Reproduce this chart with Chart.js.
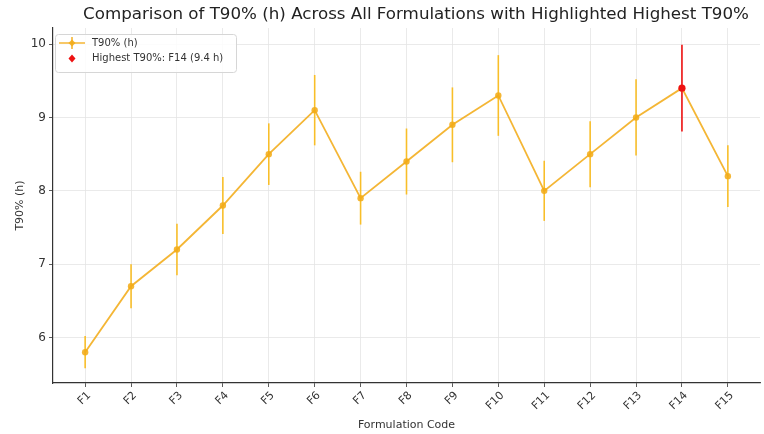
<!DOCTYPE html>
<html lang="en">
  <head>
    <meta charset="UTF-8" />
    <title>T90% comparison</title>
    <script src="https://cdn.jsdelivr.net/npm/chart.js"></script>
    <style>
      body { margin: 0; background: #fff; }
    </style>
  </head>
  <body>
    <canvas id="myChart" width="764" height="434"></canvas>
    <script>
      const codes = ["F1", "F2", "F3", "F4", "F5", "F6", "F7", "F8", "F9", "F10", "F11", "F12", "F13", "F14", "F15"];
      const t90 = [5.8, 6.7, 7.2, 7.8, 8.5, 9.1, 7.9, 8.4, 8.9, 9.3, 8.0, 8.5, 9.0, 9.4, 8.2];
      const t90Err = [0.22, 0.3, 0.35, 0.39, 0.42, 0.48, 0.36, 0.45, 0.51, 0.55, 0.41, 0.45, 0.52, 0.59, 0.42];
      const yTicks = [6, 7, 8, 9, 10];
      const titleText = "Comparison of T90% (h) Across All Formulations with Highlighted Highest T90%";

      // highest one gets the red marker
      let best = 0;
      t90.forEach((v, i) => { if (v > t90[best]) best = i; });

      const ORANGE = "rgba(243, 172, 25, 0.88)";
      const ERR = "rgba(250, 185, 20, 0.9)";
      const RED = "#ee1111";
      const FONT = "'DejaVu Sans', sans-serif";

      const errorBars = {
        id: "errorBars",
        beforeDatasetsDraw(chart) {
          const c = chart.ctx;
          const xs = chart.scales.x;
          const ys = chart.scales.y;
          c.save();
          c.lineWidth = 1.6;
          t90.forEach((v, i) => {
            const x = xs.getPixelForValue(i);
            c.strokeStyle = i === best ? RED : ERR;
            c.beginPath();
            c.moveTo(x, ys.getPixelForValue(v - t90Err[i]));
            c.lineTo(x, ys.getPixelForValue(v + t90Err[i]));
            c.stroke();
          });
          c.restore();
        },
      };

      // title + legend drawn by hand so they sit where the original had them
      const decor = {
        id: "decor",
        afterDraw(chart) {
          const c = chart.ctx;
          c.save();
          c.fillStyle = "#222";
          c.font = "16.7px " + FONT;
          c.textAlign = "center";
          c.textBaseline = "middle";
          c.fillText(titleText, 416, 15);

          const x0 = 55, y0 = 34, w = 181, h = 38;
          c.textAlign = "left";
          c.fillStyle = "rgba(255,255,255,0.85)";
          c.strokeStyle = "#d6d6d6";
          c.lineWidth = 1;
          c.beginPath();
          c.roundRect(x0 + 0.5, y0 + 0.5, w, h, 3);
          c.fill();
          c.stroke();
          // T90% handle
          c.strokeStyle = ORANGE;
          c.lineWidth = 1.6;
          c.beginPath();
          c.moveTo(59, 43); c.lineTo(85, 43);
          c.moveTo(72, 37); c.lineTo(72, 49);
          c.stroke();
          c.fillStyle = ORANGE;
          c.beginPath();
          c.moveTo(72, 39.5); c.lineTo(75.5, 43); c.lineTo(72, 46.5); c.lineTo(68.5, 43);
          c.fill();
          // red marker
          c.fillStyle = RED;
          c.beginPath();
          c.moveTo(72, 54.5); c.lineTo(75.5, 58.5); c.lineTo(72, 62.5); c.lineTo(68.5, 58.5);
          c.fill();
          c.fillStyle = "#333";
          c.font = "10px " + FONT;
          c.fillText(chart.data.datasets[0].label, 92, 43);
          c.fillText(chart.data.datasets[1].label, 92, 58.5);
          c.restore();
        },
      };

      const ctx = document.getElementById("myChart").getContext("2d");
      const myChart = new Chart(ctx, {
        type: "line",
        data: {
          datasets: [
            {
              label: "T90% (h)",
              data: t90.map((v, i) => ({ x: i, y: v })),
              borderColor: ORANGE,
              backgroundColor: ORANGE,
              borderWidth: 1.8,
              pointRadius: 3.2,
              pointBorderWidth: 0,
              tension: 0,
              order: 2,
            },
            {
              label: "Highest T90%: " + codes[best] + " (" + t90[best] + " h)",
              data: [{ x: best, y: t90[best] }],
              showLine: false,
              backgroundColor: RED,
              borderColor: RED,
              pointRadius: 3.6,
              pointBorderWidth: 0,
              order: 1,
            },
          ],
        },
        options: {
          responsive: false,
          animation: false,
          layout: { padding: { left: 0, right: 0, top: 28, bottom: 0 } },
          plugins: {
            legend: { display: false },
            tooltip: { enabled: false },
            title: { display: false },
          },
          scales: {
            x: {
              type: "linear",
              min: -0.7,
              max: 14.7,
              afterBuildTicks: (s) => { s.ticks = codes.map((c, i) => ({ value: i })); },
              afterFit: (s) => { s.height = 51; },
              ticks: {
                callback: (v) => codes[v],
                minRotation: 45,
                maxRotation: 45,
                labelOffset: 4,
                color: "#333",
                font: { family: FONT, size: 11 },
                padding: 2,
              },
              grid: { color: "#e4e4e4", lineWidth: 0.8, tickColor: "#333", tickLength: 4 },
              border: { color: "#333", width: 1.2 },
              title: {
                display: true,
                text: "Formulation Code",
                color: "#333",
                font: { family: FONT, size: 11 },
                padding: { top: 0, bottom: 2 },
              },
            },
            y: {
              min: 5.38,
              max: 10.22,
              afterBuildTicks: (s) => { s.ticks = yTicks.map((v) => ({ value: v })); },
              afterFit: (s) => { s.width = 53; },
              ticks: {
                color: "#333",
                font: { family: FONT, size: 12 },
                padding: 3,
              },
              grid: { color: "#e4e4e4", lineWidth: 0.8, tickColor: "#333", tickLength: 4 },
              border: { color: "#333", width: 1.2 },
              title: {
                display: true,
                text: "T90% (h)",
                color: "#333",
                font: { family: FONT, size: 11 },
                padding: { top: 14, bottom: 0 },
              },
            },
          },
        },
        plugins: [errorBars, decor],
      });
    </script>
  </body>
</html>
